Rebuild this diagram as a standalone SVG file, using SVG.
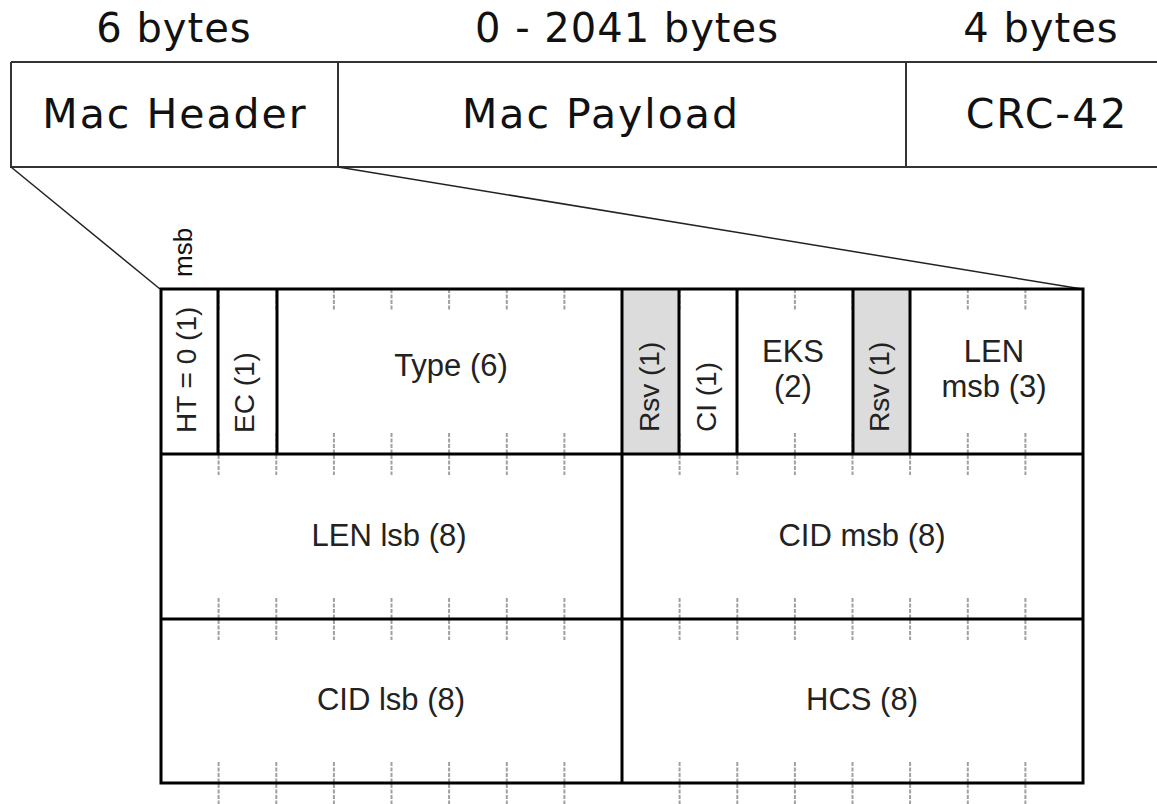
<svg xmlns="http://www.w3.org/2000/svg" width="1157" height="804" viewBox="0 0 1157 804">
<style>
.top{font-family:"DejaVu Sans",Verdana,sans-serif;font-size:40px;fill:#111;text-anchor:middle;letter-spacing:1px}
.box{font-family:"DejaVu Sans",Verdana,sans-serif;font-size:41px;fill:#111;text-anchor:middle;letter-spacing:2px}
.f{font-family:"Liberation Sans",Arial,sans-serif;font-size:31px;fill:#222;text-anchor:middle}
.r{font-family:"Liberation Sans",Arial,sans-serif;font-size:28px;fill:#222;text-anchor:start}
.m{font-family:"Liberation Sans",Arial,sans-serif;font-size:26px;fill:#111;text-anchor:start}
.bl{stroke:#333;stroke-width:2;fill:none}
.g{stroke:#000;stroke-width:3;fill:none}
.tk{stroke:#a0a0a0;stroke-width:2;stroke-dasharray:4 1.5;fill:none}
.rsv{fill:#dcdcdc}
</style>
<g id="labels">
<text class="top" x="174" y="42">6 bytes</text>
<text class="top" x="627" y="42">0 - 2041 bytes</text>
<text class="top" x="1041" y="42">4 bytes</text>
</g>
<g id="mac-header">
<path class="bl" d="M11,62V167H338"/>
<text class="box" x="175" y="128">Mac Header</text>
</g>
<g id="mac-payload">
<path class="bl" d="M338,62V167H906"/>
<text class="box" x="601" y="128">Mac Payload</text>
</g>
<g id="crc">
<path class="bl" d="M906,62V167H1160"/>
<text class="box" x="1047" y="128">CRC-42</text>
</g>
<path class="bl" d="M11,62H1160"/>
<g id="connectors">
<path d="M11,167L160,289" stroke="#222" stroke-width="1.5" fill="none"/>
<path d="M338,167L1082,289" stroke="#222" stroke-width="1.5" fill="none"/>
</g>
<g id="header-grid">
<rect class="rsv" x="622" y="289" width="57.6" height="165"/>
<rect class="rsv" x="852.5" y="289" width="57.6" height="165"/>
<g id="ticks">
<path class="tk" d="M218.6,289v22M276.3,289v22M333.9,289v22M391.5,289v22M449.1,289v22M506.8,289v22M564.4,289v22M679.6,289v22M737.3,289v22M794.9,289v22M852.5,289v22M910.1,289v22M967.8,289v22M1025.4,289v22"/>
<path class="tk" d="M218.6,433v42M276.3,433v42M333.9,433v42M391.5,433v42M449.1,433v42M506.8,433v42M564.4,433v42M679.6,433v42M737.3,433v42M794.9,433v42M852.5,433v42M910.1,433v42M967.8,433v42M1025.4,433v42"/>
<path class="tk" d="M218.6,598v42M276.3,598v42M333.9,598v42M391.5,598v42M449.1,598v42M506.8,598v42M564.4,598v42M679.6,598v42M737.3,598v42M794.9,598v42M852.5,598v42M910.1,598v42M967.8,598v42M1025.4,598v42"/>
<path class="tk" d="M218.6,762v44M276.3,762v44M333.9,762v44M391.5,762v44M449.1,762v44M506.8,762v44M564.4,762v44M679.6,762v44M737.3,762v44M794.9,762v44M852.5,762v44M910.1,762v44M967.8,762v44M1025.4,762v44"/>
</g>
<rect class="g" x="161" y="289" width="922" height="494"/>
<path class="g" d="M161,454H1083M161,619H1083M622,289V783M218,289V454M277,289V454M679,289V454M737,289V454M853,289V454M910,289V454"/>
</g>
<g id="f-msb"><text class="m" transform="translate(192,277) rotate(-90)">msb</text></g>
<g id="f-ht"><text class="r" transform="translate(196,433) rotate(-90)">HT = 0 (1)</text></g>
<g id="f-ec"><text class="r" transform="translate(254,433) rotate(-90)">EC (1)</text></g>
<g id="f-type"><text class="f" x="451" y="376">Type (6)</text></g>
<g id="f-rsv1"><text class="r" transform="translate(659,432) rotate(-90)">Rsv (1)</text></g>
<g id="f-ci"><text class="r" transform="translate(716,432) rotate(-90)">CI (1)</text></g>
<g id="f-eks"><text class="f" x="793" y="362">EKS</text><text class="f" x="793" y="397">(2)</text></g>
<g id="f-rsv2"><text class="r" transform="translate(889,432) rotate(-90)">Rsv (1)</text></g>
<g id="f-lenmsb"><text class="f" x="994" y="362">LEN</text><text class="f" x="994" y="397">msb (3)</text></g>
<g id="f-lenlsb"><text class="f" x="389" y="546">LEN lsb (8)</text></g>
<g id="f-cidmsb"><text class="f" x="862" y="546">CID msb (8)</text></g>
<g id="f-cidlsb"><text class="f" x="391" y="710">CID lsb (8)</text></g>
<g id="f-hcs"><text class="f" x="862" y="710">HCS (8)</text></g>
</svg>
